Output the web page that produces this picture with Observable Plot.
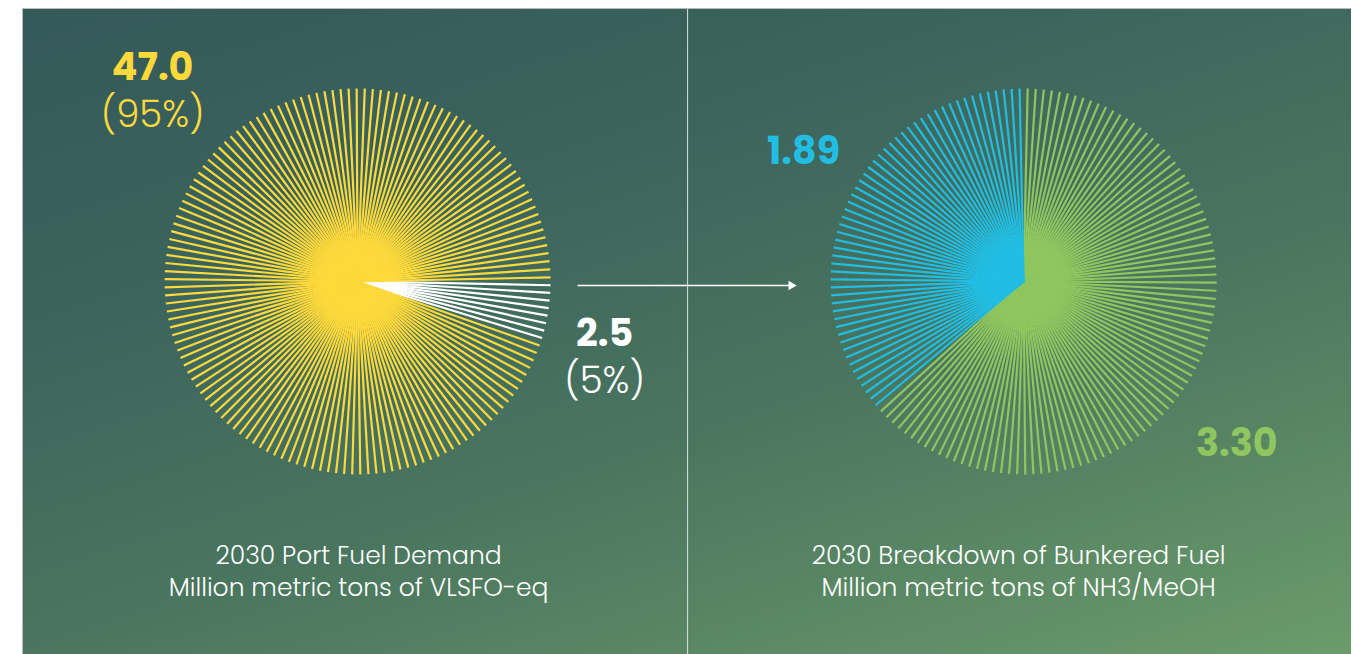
<!DOCTYPE html>
<html>
<head>
<meta charset="utf-8">
<script src="https://cdn.jsdelivr.net/npm/d3@7"></script>
<script src="https://cdn.jsdelivr.net/npm/@observablehq/plot@0.6"></script>
<style>
  html, body { margin: 0; padding: 0; background: #ffffff; }
  #chart { position: absolute; left: 22px; top: 8px; }
  #chart svg { display: block; }
</style>
</head>
<body>
<div id="chart"></div>
<script>
// ---------------- data ----------------
const portCategories = ["Bunkered fuel", "Other port fuel"];
const portValues = [2.5, 47.0];
const portTitle = "2030 Port Fuel Demand\nMillion metric tons of VLSFO-eq";

const bunkerCategories = ["Fuel type B", "Fuel type A"];
const bunkerValues = [3.30, 1.89];
const bunkerTitle = "2030 Breakdown of Bunkered Fuel\nMillion metric tons of NH3/MeOH";

// ---------------- layout / style ----------------
const raysPerPie = 150;
const allCategories = [...portCategories, ...bunkerCategories];
const categoryColors = ["#ffffff", "#fdd93b", "#8fc65f", "#22bde2"];
const font = "Poppins, Inter, 'Open Sans', sans-serif";

// pies in units of one pie radius
const pies = [
  {categories: portCategories, values: portValues, title: portTitle, cx: 0, titleDx: 0.005, startDeg: 90,
   valueFormat: d3.format(".1f"), showShare: true,
   labelPos: [[1.28, -0.332, -0.577], [-1.062, 1.044, 0.798]]},
  {categories: bunkerCategories, values: bunkerValues, title: bunkerTitle, cx: 3.451, titleDx: -0.026, startDeg: 0,
   valueFormat: d3.format(".2f"), showShare: false,
   labelPos: [[1.104, -0.902], [-1.140, 0.611]]}
];

// build rays, labels from data
const rays = [];
const valueLabels = [];
const shareLabels = [];
for (const p of pies) {
  const total = d3.sum(p.values);
  let cum = 0;
  p.values.forEach((v, i) => {
    const a0 = p.startDeg + 360 * cum / total;
    const n0 = Math.round(raysPerPie * cum / total);
    cum += v;
    const a1 = p.startDeg + 360 * cum / total;
    const n1 = Math.round(raysPerPie * cum / total);
    const count = n1 - n0;
    for (let k = 0; k < count; ++k) {
      const deg = a0 + (k + 0.5) * (a1 - a0) / count;
      const rad = deg * Math.PI / 180;
      rays.push({category: p.categories[i], cx: p.cx, dx: Math.sin(rad), dy: Math.cos(rad)});
    }
    const pos = p.labelPos[i];
    valueLabels.push({category: p.categories[i], text: p.valueFormat(v), x: p.cx + pos[0], y: pos[1]});
    if (p.showShare) {
      shareLabels.push({category: p.categories[i], text: "(" + d3.format(".0%")(v / total) + ")", x: p.cx + pos[0], y: pos[2]});
    }
  });
}

const dividerX = 1.710;
const arrow = {x1: 1.140, x2: 2.247, y: -0.021};

const chart = Plot.plot({
  width: 1328,
  height: 645,
  margin: 0,
  x: {domain: [-1.731, 5.150], axis: null},
  y: {domain: [-1.933, 1.409], axis: null},
  color: {domain: allCategories, range: categoryColors},
  style: {
    background: "linear-gradient(162deg, #345959 0%, #3b645d 30%, #4a765f 60%, #5e8d66 85%, #6b9c6b 100%)",
    borderTop: "1px solid #b5bcbb",
    borderLeft: "1px solid #b5bcbb",
    fontFamily: font,
    overflow: "visible"
  },
  marks: [
    Plot.ruleX([dividerX], {stroke: "#dbe2df", strokeWidth: 1}),
    Plot.link(rays, {
      x1: "cx", y1: () => 0,
      x2: d => d.cx + d.dx, y2: "dy",
      stroke: "category", strokeWidth: 2.2
    }),
    Plot.link([arrow], {x1: "x1", x2: "x2", y1: "y", y2: "y", stroke: "#ffffff", strokeWidth: 1.3}),
    Plot.dot([arrow], {x: "x2", y: "y", symbol: "triangle", rotate: 90, r: 3.5, fill: "#ffffff", stroke: null}),
    Plot.text(valueLabels, {
      x: "x", y: "y", text: "text", fill: "category",
      fontSize: 38, fontWeight: 700, lineAnchor: "bottom", textAnchor: "middle"
    }),
    Plot.text(shareLabels, {
      x: "x", y: "y", text: "text", fill: "category",
      fontSize: 37, fontWeight: 300, lineAnchor: "bottom", textAnchor: "middle"
    }),
    Plot.text(pies, {
      x: d => d.cx + d.titleDx, y: () => -1.630, text: "title", fill: "#ffffff",
      fontSize: 25, fontWeight: 300, lineHeight: 1.3, lineAnchor: "bottom", textAnchor: "middle"
    })
  ]
});

document.getElementById("chart").appendChild(chart);
</script>
</body>
</html>
